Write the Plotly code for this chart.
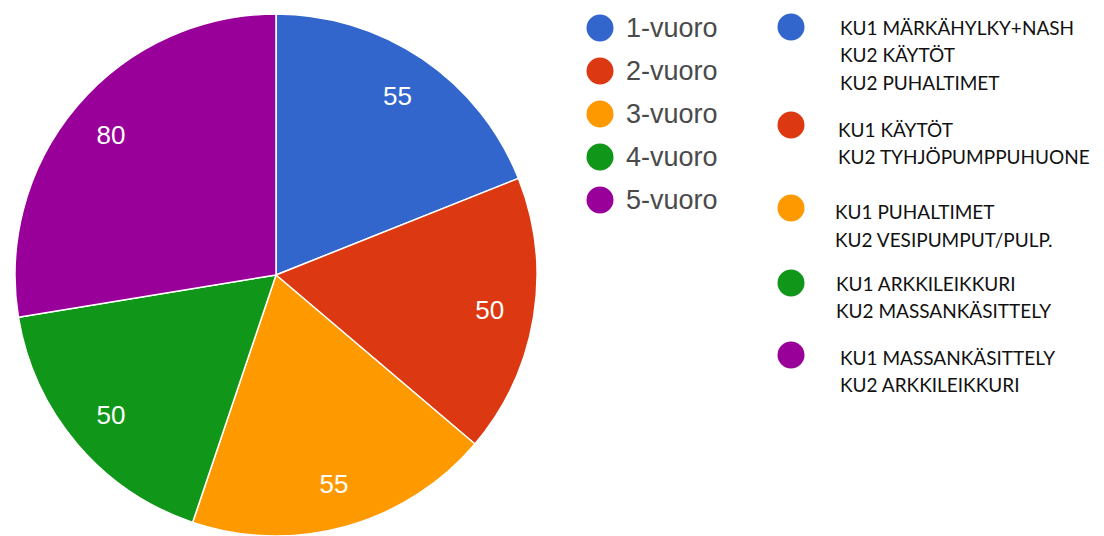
import plotly.graph_objects as go

# --- data -------------------------------------------------------------
categories = ["1-vuoro", "2-vuoro", "3-vuoro", "4-vuoro", "5-vuoro"]
values = [55, 50, 55, 50, 80]
colors = ["#3366cc", "#dc3912", "#ff9900", "#109618", "#990099"]
areas = [
    ["KU1 MÄRKÄHYLKY+NASH", "KU2 KÄYTÖT", "KU2 PUHALTIMET"],
    ["KU1 KÄYTÖT", "KU2 TYHJÖPUMPPUHUONE"],
    ["KU1 PUHALTIMET", "KU2 VESIPUMPUT/PULP."],
    ["KU1 ARKKILEIKKURI", "KU2 MASSANKÄSITTELY"],
    ["KU1 MASSANKÄSITTELY", "KU2 ARKKILEIKKURI"],
]

# --- layout constants (pixels) ---------------------------------------
W, H = 1104, 536
PIE_CX, PIE_R = 276, 261
LABEL_HOLE = 0.66  # value labels sit in the outer ring of the pie

LEG1_DOT_X, LEG1_TEXT_X = 600, 624
LEG1_Y = [28, 71, 114, 157, 200]

LEG2_DOT_X = 791
LEG2_DOT_Y = [27, 125, 208, 283, 355]
LEG2_TEXT_X = [838, 836, 833, 834, 838]
LEG2_TEXT_Y = [27, 129, 212, 283, 357]
LEG2_LINE = 27.5
DOT_R = 13.5


def px(x):
    return x / W


def py(y):
    return 1 - y / H


domain = dict(
    x=[px(PIE_CX - PIE_R), px(PIE_CX + PIE_R)],
    y=[0, 2 * PIE_R / H],
)

label_font = dict(family="Liberation Sans, Arial, sans-serif", size=26, color="#ffffff")

fig = go.Figure()

# coloured slices
fig.add_trace(go.Pie(
    labels=categories,
    values=values,
    sort=False,
    direction="clockwise",
    rotation=0,
    marker=dict(colors=colors, line=dict(color="#ffffff", width=1.5)),
    textinfo="none",
    showlegend=False,
    hoverinfo="label+value+percent",
    domain=domain,
))

# value labels, placed in the outer part of each slice
fig.add_trace(go.Pie(
    labels=categories,
    values=values,
    sort=False,
    direction="clockwise",
    rotation=0,
    hole=LABEL_HOLE,
    marker=dict(colors=["rgba(0,0,0,0)"] * len(values), line=dict(width=0)),
    textinfo="value",
    textposition="inside",
    insidetextorientation="horizontal",
    textfont=label_font,
    showlegend=False,
    hoverinfo="skip",
    domain=domain,
))

shapes = []
annotations = []

# first legend column: series names
for name, col, y in zip(categories, colors, LEG1_Y):
    shapes.append(dict(
        type="circle", xref="paper", yref="paper",
        x0=px(LEG1_DOT_X - DOT_R), x1=px(LEG1_DOT_X + DOT_R),
        y0=py(y + DOT_R), y1=py(y - DOT_R),
        fillcolor=col, line=dict(width=0),
    ))
    annotations.append(dict(
        xref="paper", yref="paper", x=px(LEG1_TEXT_X), y=py(y),
        xanchor="left", yanchor="middle", showarrow=False, text=name,
        font=dict(family="Liberation Sans, Arial, sans-serif", size=27, color="#4a4a4a"),
    ))

# second legend column: areas handled by each shift
for lines, col, dy, tx, ty in zip(areas, colors, LEG2_DOT_Y, LEG2_TEXT_X, LEG2_TEXT_Y):
    shapes.append(dict(
        type="circle", xref="paper", yref="paper",
        x0=px(LEG2_DOT_X - DOT_R), x1=px(LEG2_DOT_X + DOT_R),
        y0=py(dy + DOT_R), y1=py(dy - DOT_R),
        fillcolor=col, line=dict(width=0),
    ))
    for i, line in enumerate(lines):
        annotations.append(dict(
            xref="paper", yref="paper", x=px(tx), y=py(ty + i * LEG2_LINE),
            xanchor="left", yanchor="middle", showarrow=False, text=line,
            font=dict(family="Lato, sans-serif", size=19, color="#111111"),
        ))

fig.update_layout(
    width=W, height=H,
    margin=dict(l=0, r=0, t=0, b=0, pad=0),
    paper_bgcolor="#ffffff",
    plot_bgcolor="#ffffff",
    shapes=shapes,
    annotations=annotations,
)

fig.write_html("out.html")
